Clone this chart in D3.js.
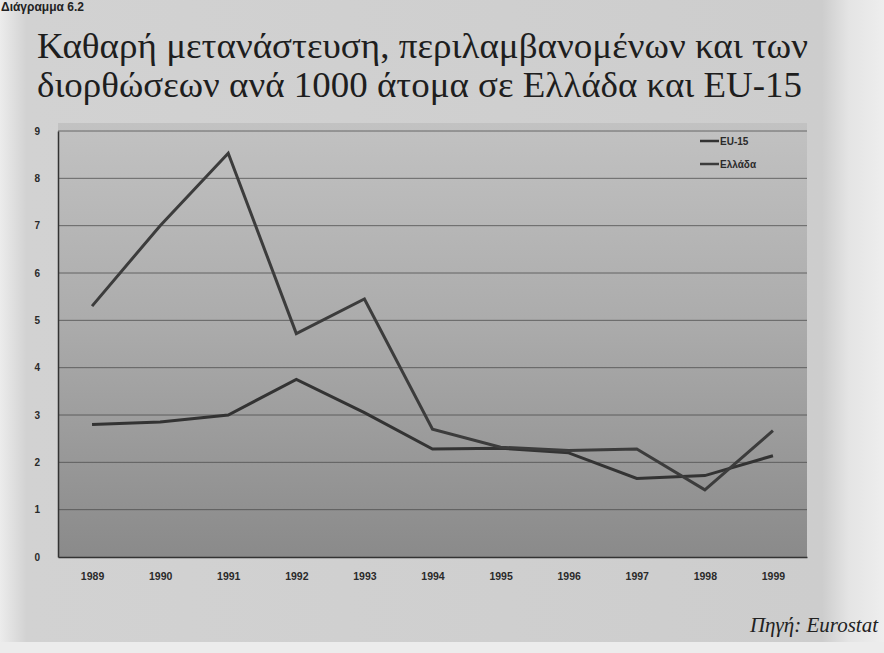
<!DOCTYPE html>
<html>
<head>
<meta charset="utf-8">
<script src="https://cdn.jsdelivr.net/npm/d3@7"></script>
<style>
  html, body { margin: 0; padding: 0; background: #d6d6d6; }
  svg { display: block; }
</style>
</head>
<body>
<svg id="chart" width="884" height="653"></svg>
<script>
// ---- data ----
const years = ["1989","1990","1991","1992","1993","1994","1995","1996","1997","1998","1999"];
const euValues = [2.8, 2.85, 3.0, 3.75, 3.05, 2.28, 2.3, 2.2, 1.66, 1.72, 2.14];
const greeceValues = [5.3, 7.0, 8.53, 4.72, 5.45, 2.7, 2.32, 2.25, 2.28, 1.42, 2.67];
const yTicks = [0, 1, 2, 3, 4, 5, 6, 7, 8, 9];
const seriesNames = ["EU-15", "Ελλάδα"];
const titleLines = ["Καθαρή μετανάστευση, περιλαμβανομένων και των", "διορθώσεων ανά 1000 άτομα σε Ελλάδα και EU-15"];

const SERIF = "'Liberation Serif', 'Times New Roman', 'DejaVu Serif', serif";
const SANS = "'Liberation Sans', Arial, sans-serif";

const svg = d3.select("#chart");
const defs = svg.append("defs");

// page background with lighter margins (scanned page)
const pageGrad = defs.append("linearGradient").attr("id", "pageGrad").attr("x1", 0).attr("x2", 1).attr("y1", 0).attr("y2", 0);
pageGrad.append("stop").attr("offset", "0%").attr("stop-color", "#ececec");
pageGrad.append("stop").attr("offset", "3%").attr("stop-color", "#d2d2d2");
pageGrad.append("stop").attr("offset", "93%").attr("stop-color", "#cdcdcd");
pageGrad.append("stop").attr("offset", "96%").attr("stop-color", "#e4e4e4");
pageGrad.append("stop").attr("offset", "100%").attr("stop-color", "#eeeeee");
svg.append("rect").attr("width", 884).attr("height", 653).attr("fill", "url(#pageGrad)");
svg.append("rect").attr("x", 0).attr("y", 642).attr("width", 884).attr("height", 11).attr("fill", "#ececec");

// plot gradient
const plotGrad = defs.append("linearGradient").attr("id", "plotGrad").attr("x1", 0).attr("x2", 0).attr("y1", 0).attr("y2", 1);
plotGrad.append("stop").attr("offset", "0%").attr("stop-color", "#c2c2c2");
plotGrad.append("stop").attr("offset", "45%").attr("stop-color", "#acacac");
plotGrad.append("stop").attr("offset", "100%").attr("stop-color", "#8a8a8a");

const plot = { left: 58, right: 807, top: 131, bottom: 557 };

const x = d3.scalePoint().domain(years).range([plot.left, plot.right]).padding(0.5);
const y = d3.scaleLinear().domain([0, 9]).range([plot.bottom, plot.top]);

// header
svg.append("text").attr("x", 1).attr("y", 11)
  .attr("font-family", SANS).attr("font-weight", "bold")
  .attr("font-size", 12).attr("fill", "#222").text("Διάγραμμα 6.2");

// title
svg.selectAll("text.title").data(titleLines).enter().append("text")
  .attr("class", "title")
  .attr("x", 37).attr("y", (d, i) => 58 + i * 39)
  .attr("font-family", SERIF)
  .attr("font-size", 36).attr("fill", "#1e1e1e")
  .attr("textLength", (d, i) => i === 0 ? 771 : 765)
  .attr("lengthAdjust", "spacingAndGlyphs")
  .text(d => d);

// plot background
svg.append("rect").attr("x", plot.left).attr("y", plot.top - 8)
  .attr("width", plot.right - plot.left).attr("height", plot.bottom - plot.top + 8)
  .attr("fill", "url(#plotGrad)");

// grid
svg.append("g").selectAll("line").data(yTicks.filter(d => d > 0)).enter().append("line")
  .attr("x1", plot.left).attr("x2", plot.right)
  .attr("y1", d => y(d)).attr("y2", d => y(d))
  .attr("stroke", "#4a4a4a").attr("stroke-width", 1).attr("stroke-opacity", 0.75);

// y axis
const yAxis = svg.append("g").attr("transform", `translate(${plot.left},0)`)
  .call(d3.axisLeft(y).tickValues(yTicks).tickSize(0).tickPadding(18).tickFormat(d3.format("d")));
yAxis.select(".domain").attr("stroke", "#333").attr("stroke-width", 1.5);
yAxis.selectAll("text").attr("font-family", SANS)
  .attr("font-weight", "bold").attr("font-size", 10).attr("fill", "#2a2a2a");

// x axis
const xAxis = svg.append("g").attr("transform", `translate(0,${plot.bottom})`)
  .call(d3.axisBottom(x).tickSize(0).tickPadding(16));
xAxis.select(".domain").attr("stroke", "#333").attr("stroke-width", 1.5);
xAxis.selectAll("text").attr("font-family", SANS)
  .attr("font-weight", "bold").attr("font-size", 10.5).attr("fill", "#2a2a2a");

// lines
const line = d3.line().x((d, i) => x(years[i])).y(d => y(d));
const seriesData = [euValues, greeceValues];
const colors = ["#333333", "#3c3c3c"];
svg.append("g").selectAll("path").data(seriesData).enter().append("path")
  .attr("d", d => line(d))
  .attr("fill", "none")
  .attr("stroke", (d, i) => colors[i])
  .attr("stroke-width", 3)
  .attr("stroke-linejoin", "miter");

// legend
const legend = svg.append("g").attr("transform", "translate(700,141)");
seriesNames.forEach((name, i) => {
  const g = legend.append("g").attr("transform", `translate(0,${i * 23})`);
  g.append("line").attr("x1", 0).attr("x2", 19).attr("y1", 0).attr("y2", 0)
    .attr("stroke", colors[i]).attr("stroke-width", 2.5);
  g.append("text").attr("x", 20).attr("y", 4)
    .attr("font-family", SANS).attr("font-weight", "bold")
    .attr("font-size", 10).attr("fill", "#2a2a2a").text(name);
});

// source
svg.append("text").attr("x", 878).attr("y", 632).attr("text-anchor", "end")
  .attr("font-family", SERIF).attr("font-style", "italic")
  .attr("font-size", 21).attr("fill", "#222").text("Πηγή: Eurostat");
</script>
</body>
</html>
